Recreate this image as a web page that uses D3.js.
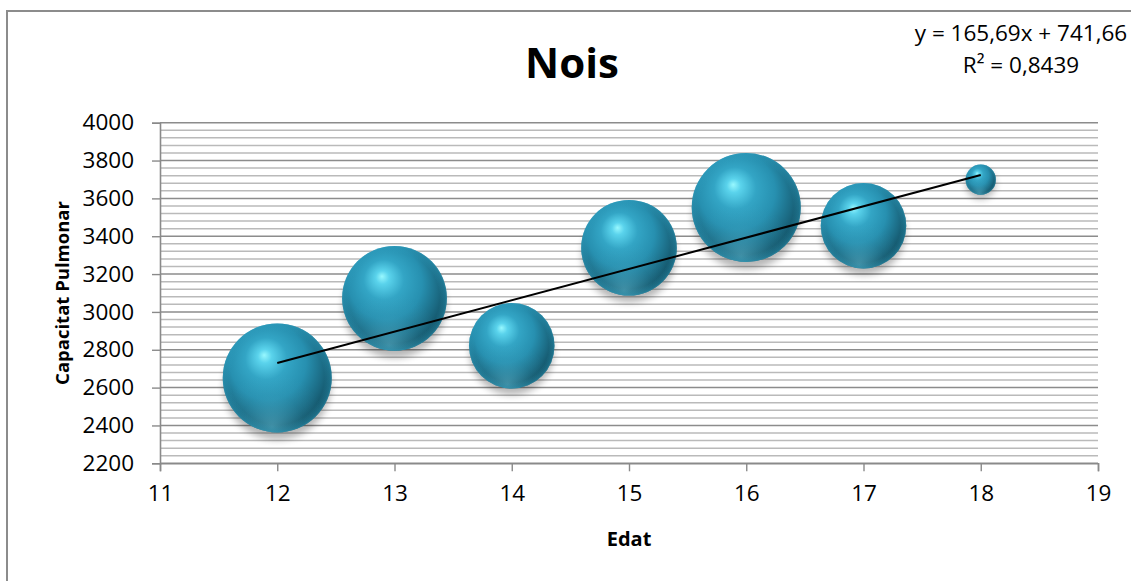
<!DOCTYPE html>
<html>
<head>
<meta charset="utf-8">
<script src="https://cdn.jsdelivr.net/npm/d3@7/dist/d3.min.js"></script>
<style>
  html, body { margin: 0; padding: 0; background: #ffffff; }
  svg { display: block; font-family: "Open Sans", "Noto Sans", sans-serif; }
</style>
</head>
<body>
<svg id="chart" width="1131" height="581"></svg>
<script>
// Edat (anys), capacitat pulmonar mitjana i nombre de nois per grup
const ages = [12, 13, 14, 15, 16, 17, 18];
const capacity = [2651, 3072, 2821, 3339, 3552, 3455, 3699];
const counts = [13, 12, 8, 10, 13, 8, 1];

// Eixos
const xTicks = [11, 12, 13, 14, 15, 16, 17, 18, 19];
const yTicks = [2200, 2400, 2600, 2800, 3000, 3200, 3400, 3600, 3800, 4000];

// Línia de tendència lineal (coeficients mostrats a l'etiqueta)
const trendSlope = 165.69;
const trendIntercept = 741.66;
const rSquared = 0.8439;

const svg = d3.select("#chart");

const plot = { left: 160, right: 1098, top: 122.7, bottom: 463.3 };

const x = d3.scaleLinear().domain([11, 19]).range([plot.left, plot.right]);
const y = d3.scaleLinear().domain([2200, 4000]).range([plot.bottom, plot.top]);
const r = d3.scaleSqrt().domain([0, d3.max(counts)]).range([0, 54.5]);

const fmt = v => String(v).replace(".", ",");

// ----- definitions: sphere shading and shadow -----
const defs = svg.append("defs");

const sphere = defs.append("radialGradient")
  .attr("id", "sphere")
  .attr("cx", "0.44").attr("cy", "0.4").attr("r", "0.64")
  .attr("fx", "0.38").attr("fy", "0.29");
[
  [0.00, "#98f8ff"],
  [0.10, "#5ad3ec"],
  [0.30, "#33a5c5"],
  [0.55, "#2790b0"],
  [0.78, "#1b6a83"],
  [1.00, "#0d4354"]
].forEach(([o, c]) => sphere.append("stop").attr("offset", o).attr("stop-color", c));

const glow = defs.append("radialGradient")
  .attr("id", "bottomGlow")
  .attr("cx", "0.45").attr("cy", "0.95").attr("r", "0.5");
glow.append("stop").attr("offset", 0).attr("stop-color", "#6cc4da").attr("stop-opacity", 0.5);
glow.append("stop").attr("offset", 0.6).attr("stop-color", "#4aabc6").attr("stop-opacity", 0.12);
glow.append("stop").attr("offset", 1).attr("stop-color", "#4aabc6").attr("stop-opacity", 0);

const rim = defs.append("radialGradient")
  .attr("id", "rim")
  .attr("cx", "0.5").attr("cy", "0.5").attr("r", "0.5");
rim.append("stop").attr("offset", 0.86).attr("stop-color", "#2f9fc0").attr("stop-opacity", 0);
rim.append("stop").attr("offset", 0.97).attr("stop-color", "#2f9fc0").attr("stop-opacity", 0.35);
rim.append("stop").attr("offset", 1).attr("stop-color", "#2f9fc0").attr("stop-opacity", 0.6);

const shadow = defs.append("filter")
  .attr("id", "shadow")
  .attr("x", "-30%").attr("y", "-30%").attr("width", "160%").attr("height", "170%");
shadow.append("feGaussianBlur").attr("stdDeviation", 3.5);

// ----- chart frame -----
svg.append("rect")
  .attr("x", 7).attr("y", 11)
  .attr("width", 1131).attr("height", 600)
  .attr("fill", "#ffffff")
  .attr("stroke", "#8c8c8c").attr("stroke-width", 2);

// ----- gridlines -----
const minorTicks = d3.range(2200, 4000.1, 40);
svg.append("g").selectAll("line")
  .data(minorTicks.filter(v => v % 200 !== 0))
  .join("line")
  .attr("x1", plot.left).attr("x2", plot.right)
  .attr("y1", d => y(d)).attr("y2", d => y(d))
  .attr("stroke", "#bababa").attr("stroke-width", 1.5);

svg.append("g").selectAll("line")
  .data(yTicks)
  .join("line")
  .attr("x1", plot.left).attr("x2", plot.right)
  .attr("y1", d => y(d)).attr("y2", d => y(d))
  .attr("stroke", "#8c8c8c").attr("stroke-width", 1.5);

// ----- axes -----
const yAxis = d3.axisLeft(y).tickValues(yTicks).tickSize(8).tickPadding(18).tickFormat(d => d);
const gy = svg.append("g").attr("transform", `translate(${plot.left},0)`).call(yAxis);
gy.select(".domain").attr("stroke", "#8a8a8a").attr("stroke-width", 1.6);
gy.selectAll(".tick line").attr("stroke", "#8a8a8a").attr("stroke-width", 1.4);
gy.selectAll(".tick text")
  .attr("font-family", "'Open Sans', sans-serif")
  .attr("font-size", 22.5).attr("fill", "#000");

const xAxis = d3.axisBottom(x).tickValues(xTicks).tickSize(8).tickPadding(14).tickFormat(d => d);
const gx = svg.append("g").attr("transform", `translate(0,${plot.bottom})`).call(xAxis);
gx.select(".domain").attr("stroke", "#8a8a8a").attr("stroke-width", 1.6);
gx.selectAll(".tick line").attr("stroke", "#8a8a8a").attr("stroke-width", 1.4);
gx.selectAll(".tick text")
  .attr("font-family", "'Open Sans', sans-serif")
  .attr("font-size", 22.5).attr("fill", "#000");

// ----- bubbles -----
const data = ages.map((a, i) => ({ age: a, cap: capacity[i], n: counts[i] }));
const bubbles = svg.append("g").selectAll("g")
  .data(data.slice().sort((a, b) => b.n - a.n))
  .join("g");

bubbles.append("circle")
  .attr("cx", d => x(d.age))
  .attr("cy", d => y(d.cap) + r(d.n) * 0.1 + 3)
  .attr("r", d => r(d.n) * 0.98)
  .attr("fill", "#000")
  .attr("opacity", 0.28)
  .attr("filter", "url(#shadow)");

bubbles.append("circle")
  .attr("cx", d => x(d.age))
  .attr("cy", d => y(d.cap))
  .attr("r", d => r(d.n))
  .attr("fill", "url(#sphere)");

bubbles.append("circle")
  .attr("cx", d => x(d.age))
  .attr("cy", d => y(d.cap))
  .attr("r", d => r(d.n))
  .attr("fill", "url(#bottomGlow)");

bubbles.append("circle")
  .attr("cx", d => x(d.age))
  .attr("cy", d => y(d.cap))
  .attr("r", d => r(d.n))
  .attr("fill", "url(#rim)");

// ----- trendline -----
const xMin = d3.min(ages), xMax = d3.max(ages);
svg.append("line")
  .attr("x1", x(xMin)).attr("y1", y(trendSlope * xMin + trendIntercept))
  .attr("x2", x(xMax)).attr("y2", y(trendSlope * xMax + trendIntercept))
  .attr("stroke", "#000").attr("stroke-width", 2);

// ----- texts -----
svg.append("text")
  .attr("x", 572).attr("y", 78)
  .attr("text-anchor", "middle")
  .attr("font-size", 42).attr("font-weight", "bold")
  .text("Nois");

svg.append("text")
  .attr("x", 1021).attr("y", 41)
  .attr("text-anchor", "middle")
  .attr("font-size", 22.5)
  .text(`y = ${fmt(trendSlope)}x + ${fmt(trendIntercept)}`);

svg.append("text")
  .attr("x", 1021).attr("y", 73)
  .attr("text-anchor", "middle")
  .attr("font-size", 22.5)
  .text(`R² = ${fmt(rSquared)}`);

svg.append("text")
  .attr("transform", `translate(69,${(plot.top + plot.bottom) / 2}) rotate(-90)`)
  .attr("text-anchor", "middle")
  .attr("font-size", 18.5).attr("font-weight", "bold")
  .text("Capacitat Pulmonar");

svg.append("text")
  .attr("x", (plot.left + plot.right) / 2).attr("y", 546)
  .attr("text-anchor", "middle")
  .attr("font-size", 20).attr("font-weight", "bold")
  .text("Edat");
</script>
</body>
</html>
